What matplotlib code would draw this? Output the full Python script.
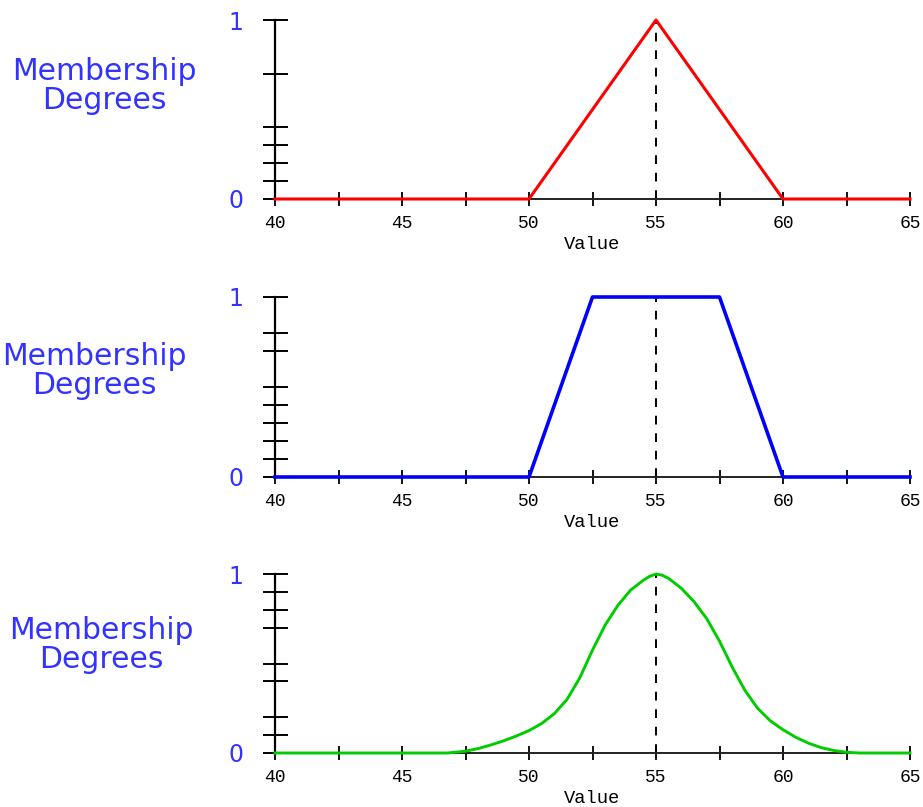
import matplotlib
matplotlib.use("Agg")
import matplotlib.pyplot as plt

# ---- data ----
tri_x = [40, 50, 55, 60, 65]
tri_y = [0, 0, 1, 0, 0]

trap_x = [40, 50, 52.5, 57.5, 60, 65]
trap_y = [0, 0, 1, 1, 0, 0]

gauss_x = [40, 46.8, 47.5, 48.0, 48.5, 49.0, 49.5, 50.0, 50.5, 51.0, 51.5, 52.0, 52.5,
           53.0, 53.5, 54.0, 54.5, 54.75, 55.0, 55.25, 55.5, 56.0, 56.5, 57.0, 57.5, 58.0, 58.5,
           59.0, 59.5, 60.0, 60.5, 61.0, 61.5, 62.0, 62.5, 63.0, 65]
gauss_y = [0, 0, 0.01, 0.025, 0.045, 0.068, 0.095, 0.125, 0.165, 0.22, 0.30, 0.42, 0.575,
           0.715, 0.825, 0.91, 0.965, 0.987, 1.0, 0.993, 0.975, 0.92, 0.845, 0.75, 0.625, 0.48, 0.35,
           0.25, 0.18, 0.13, 0.088, 0.055, 0.03, 0.014, 0.004, 0.0, 0.0]

center = 55
x_major = [40, 45, 50, 55, 60, 65]
x_minor = [42.5, 47.5, 52.5, 57.5, 62.5]
x_labels = ["40", "45", "50", "55", "60", "65"]

yticks_1 = [0, 0.1, 0.2, 0.3, 0.4, 0.7, 1.0]
yticks_2 = [0, 0.1, 0.2, 0.3, 0.4, 0.5, 0.7, 0.8, 1.0]
yticks_3 = [0, 0.1, 0.2, 0.4, 0.5, 0.7, 0.8, 0.9, 1.0]

ylabel_text = "Membership\nDegrees"
xlabel_text = "Value"

series = [
    (tri_x, tri_y, "#ff0000", 2.2, yticks_1),
    (trap_x, trap_y, "#0000ff", 2.6, yticks_2),
    (gauss_x, gauss_y, "#00cc00", 2.1, yticks_3),
]

W, H = 923, 807
fig = plt.figure(figsize=(W / 100, H / 100), dpi=100)

# pixel layout: (top, bottom) of each panel, label centre (x, y)
panels = [(20, 199, 104, 86), (297, 477, 94, 371), (574, 753, 101, 645)]
left_px, right_px = 275, 910
text_blue = "#3333ff"

for (xs, ys, col, lw, yt), (top, bot, lx, ly) in zip(series, panels):
    ax = fig.add_axes([left_px / W, 1 - bot / H, (right_px - left_px) / W, (bot - top) / H])
    ax.set_xlim(40, 65)
    ax.set_ylim(0, 1)
    for s in ["top", "right"]:
        ax.spines[s].set_visible(False)
    ax.spines["left"].set_linewidth(1.6)
    ax.spines["left"].set_color("black")
    ax.spines["bottom"].set_linewidth(1.4)
    ax.spines["bottom"].set_color("#222222")

    ax.vlines(center, 0, 1, colors="black", linestyles=(0, (4.5, 4.5)), linewidth=1.4, zorder=2)
    ax.plot(xs, ys, color=col, linewidth=lw, clip_on=False, zorder=3,
            solid_joinstyle="round")

    ax.set_xticks(x_major)
    ax.set_xticks(x_minor, minor=True)
    ax.set_xticklabels(x_labels, fontfamily="Liberation Mono", fontsize=13)
    ax.tick_params(axis="x", which="both", direction="inout", length=9.5, width=1.3,
                   pad=7, colors="black")
    ax.set_yticks(yt)
    ax.set_yticklabels(["1" if v == 1 else ("0" if v == 0 else "") for v in yt],
                       fontfamily="DejaVu Sans", fontsize=17, color=text_blue)
    ax.tick_params(axis="y", direction="inout", length=18, width=1.4, pad=14)
    ax.set_xlabel(xlabel_text, fontfamily="Liberation Mono", fontsize=13.5, labelpad=3)
    ax.set_facecolor("none")

    fig.text(lx / W, 1 - ly / H, ylabel_text, ha="center", va="center",
             fontfamily="DejaVu Sans", fontsize=21.5, color=text_blue, linespacing=1.0)

fig.savefig("out.png", dpi=100)
